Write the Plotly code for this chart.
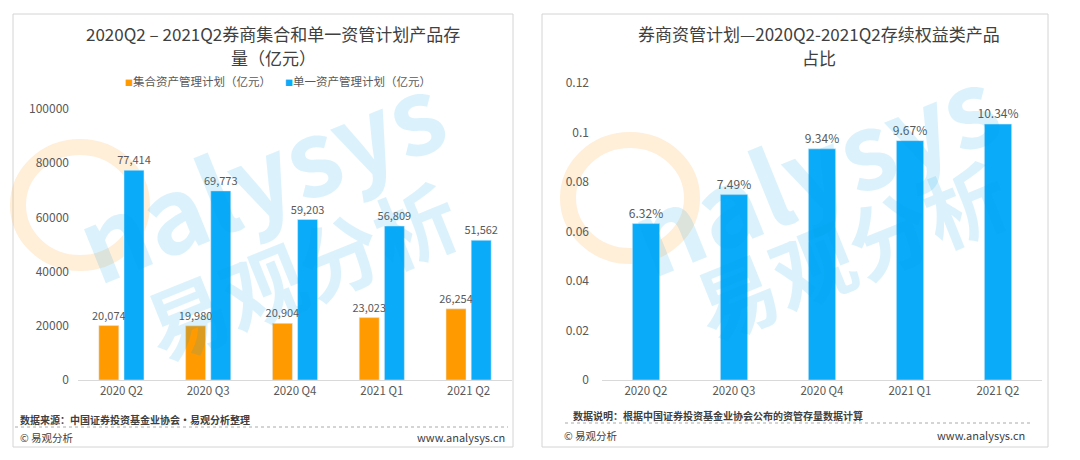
import plotly.graph_objects as go

quarters = ["2020 Q2", "2020 Q3", "2020 Q4", "2021 Q1", "2021 Q2"]
collective = [20074, 19980, 20904, 23023, 26254]   # 集合资产管理计划（亿元）
single = [77414, 69773, 59203, 56809, 51562]       # 单一资产管理计划（亿元）
equity_share = [0.0632, 0.0749, 0.0934, 0.0967, 0.1034]

ORANGE = "#FF9A00"
BLUE = "#0AABF8"
FONT = "Noto Sans CJK SC"
GREY = "#595959"

# the page body keeps its 8px default margin, so the figure is drawn 8px in
OFF = 8
W, H = 1080 - OFF, 460 - OFF


def px(x):
    return (x - OFF) / W


def py(y):
    return (H - (y - OFF)) / H


fig = go.Figure()

# left chart (blue first so the orange labels stay on top)
fig.add_trace(go.Bar(
    x=quarters, y=single, name="单一资产管理计划（亿元）",
    marker_color=BLUE, xaxis="x", yaxis="y",
    offset=0.03, width=0.23,
    text=single, texttemplate="%{y:,}", textposition="outside",
    textfont=dict(size=11, color=GREY), cliponaxis=False, constraintext="none",
))
fig.add_trace(go.Bar(
    x=quarters, y=collective, name="集合资产管理计划（亿元）",
    marker_color=ORANGE, xaxis="x", yaxis="y",
    offset=-0.26, width=0.23,
    text=collective, texttemplate="%{y:,}", textposition="outside",
    textfont=dict(size=11, color=GREY), cliponaxis=False, constraintext="none",
))

# right chart
fig.add_trace(go.Bar(
    x=quarters, y=equity_share, name="权益类产品占比",
    marker_color=BLUE, xaxis="x2", yaxis="y2",
    width=0.31,
    text=equity_share, texttemplate="%{y:.2%}", textposition="outside",
    textfont=dict(size=12, color=GREY), cliponaxis=False, constraintext="none",
))

tick_font = dict(family=FONT, size=12, color=GREY)
cat_font = dict(family=FONT, size=11.5, color=GREY)

fig.update_layout(
    width=W, height=H,
    margin=dict(l=0, r=0, t=0, b=0, autoexpand=False),
    paper_bgcolor="white", plot_bgcolor="rgba(0,0,0,0)",
    font=dict(family=FONT, color=GREY),
    barmode="overlay",
    showlegend=False,
    xaxis=dict(domain=[px(78), px(512)], anchor="y", showline=True,
               linecolor="#D9D9D9", linewidth=1, ticks="", tickfont=cat_font,
               showgrid=False),
    yaxis=dict(domain=[py(380), py(109)], anchor="x", range=[0, 100000],
               dtick=20000, tickformat="d", showgrid=False, zeroline=False,
               tickfont=tick_font, ticklabelstandoff=8),
    xaxis2=dict(domain=[px(602), px(1042)], anchor="y2", showline=True,
                linecolor="#D9D9D9", linewidth=1, ticks="", tickfont=cat_font,
                showgrid=False),
    yaxis2=dict(domain=[py(380), py(83)], anchor="x2", range=[0, 0.12],
                dtick=0.02, showgrid=False, zeroline=False,
                tickfont=tick_font, ticklabelstandoff=12),
)

shapes = []
# panel frames
for x0, x1 in [(13, 513), (542, 1048)]:
    shapes.append(dict(type="rect", xref="paper", yref="paper",
                       x0=px(x0), x1=px(x1), y0=py(447), y1=py(14),
                       line=dict(color="#D4D4D4", width=1), layer="below"))
# dotted footer separators
for x0, x1, y in [(15, 508, 427), (565, 1030, 423)]:
    shapes.append(dict(type="line", xref="paper", yref="paper",
                       x0=px(x0), x1=px(x1), y0=py(y), y1=py(y),
                       line=dict(color="#AAAAAA", width=1, dash="dot")))
# orange logo rings of the watermark
for cx, cy in [(80, 205), (630, 198)]:
    shapes.append(dict(type="circle", xref="paper", yref="paper",
                       x0=px(cx - 62), x1=px(cx + 62), y0=py(cy + 58), y1=py(cy - 58),
                       line=dict(color="rgba(255,170,60,0.2)", width=16), layer="below"))
fig.update_layout(shapes=shapes)

annotations = []


def note(x, y, text, size, color="#404040", xanchor="left", **kw):
    annotations.append(dict(xref="paper", yref="paper", x=px(x), y=py(y),
                            text=text, showarrow=False, xanchor=xanchor,
                            yanchor="middle", font=dict(family=FONT, size=size, color=color), **kw))


# titles
note(273, 33, "2020Q2 – 2021Q2券商集合和单一资管计划产品存", 17, xanchor="center")
note(273, 58, "量（亿元）", 17, xanchor="center")
note(819, 33, "券商资管计划—2020Q2-2021Q2存续权益类产品", 17, xanchor="center")
note(819, 58, "占比", 17, xanchor="center")

# legend of the left chart
sq = "<span style='color:{};font-size:8px'>■</span>"
note(123, 81, sq.format(ORANGE) + "集合资产管理计划（亿元）", 11.5, color=GREY)
note(283, 81, sq.format(BLUE) + "单一资产管理计划（亿元）", 11.5, color=GREY)

# footers
note(18, 419, "<b>数据来源：中国证券投资基金业协会·易观分析整理</b>", 10)
note(18, 437, "© 易观分析", 10.5)
note(507, 437, "www.analysys.cn", 11, xanchor="right")
note(571, 415, "<b>数据说明：根据中国证券投资基金业协会公布的资管存量数据计算</b>", 10)
note(562, 435, "© 易观分析", 10.5)
note(1027, 435, "www.analysys.cn", 11, xanchor="right")

# watermarks
wm = "rgba(0,160,235,0.14)"
note(258, 172, "<b>nalysys</b>", 104, color=wm, xanchor="center", textangle=-22)
note(300, 268, "<b>易观分析</b>", 82, color=wm, xanchor="center", textangle=-22)
note(812, 165, "<b>nalysys</b>", 104, color=wm, xanchor="center", textangle=-22)
note(850, 248, "<b>易观分析</b>", 82, color=wm, xanchor="center", textangle=-22)

fig.update_layout(annotations=annotations)

fig.write_html("out.html")
